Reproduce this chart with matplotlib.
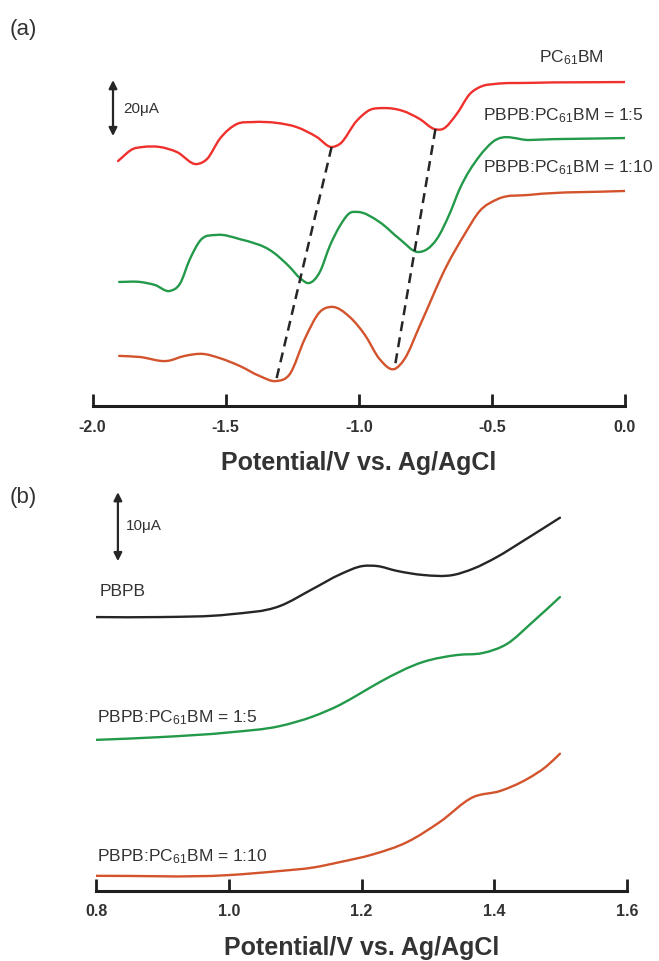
import numpy as np
import matplotlib
matplotlib.use("Agg")
import matplotlib.pyplot as plt
from matplotlib.path import Path
from matplotlib.patches import PathPatch

plt.rcParams['font.family'] = ['Liberation Sans', 'DejaVu Sans']
plt.rcParams['mathtext.fontset'] = 'custom'
plt.rcParams['mathtext.rm'] = 'Liberation Sans'
plt.rcParams['mathtext.it'] = 'Liberation Sans:italic'
plt.rcParams['mathtext.bf'] = 'Liberation Sans:bold'

# ---------------- (a) reduction scans (offset currents, uA) ----------------
v_pcbm = [-1.904, -1.848, -1.811, -1.747, -1.683, -1.608, -1.570, -1.522, -1.458, -1.398,
          -1.308, -1.233, -1.158, -1.102, -1.071, -1.008, -0.959, -0.910, -0.835, -0.771,
          -0.715, -0.685, -0.632, -0.583, -0.535, -0.490, -0.358, 0.0]
i_pcbm = [87.5, 91.8, 92.5, 92.5, 90.7, 86.4, 88.2, 95.4, 100.7, 101.4,
          101.1, 99.6, 96.1, 92.5, 93.6, 101.8, 105.7, 106.4, 105.4, 102.5,
          98.9, 98.9, 104.3, 111.4, 114.3, 115.0, 115.4, 115.7]

v_15 = [-1.90, -1.822, -1.765, -1.709, -1.672, -1.634, -1.597, -1.533, -1.447, -1.323,
        -1.259, -1.221, -1.187, -1.146, -1.109, -1.071, -1.034, -1.004, -0.922, -0.846,
        -0.778, -0.707, -0.659, -0.621, -0.546, -0.497, -0.358, 0.0]
i_15 = [44.3, 44.3, 43.2, 41.1, 43.6, 52.5, 58.9, 61.1, 59.6, 55.0,
        49.6, 45.7, 43.9, 47.9, 57.1, 64.3, 68.9, 69.3, 65.7, 59.6,
        55.0, 59.6, 68.6, 77.5, 89.3, 94.3, 95.0, 95.7]

v_110 = [-1.90, -1.822, -1.719, -1.653, -1.585, -1.522, -1.447, -1.372, -1.311, -1.259,
         -1.203, -1.146, -1.101, -1.034, -0.977, -0.922, -0.866, -0.828, -0.771, -0.670,
         -0.602, -0.546, -0.478, -0.358, 0.0]
i_110 = [17.9, 17.5, 16.1, 17.9, 18.6, 17.1, 14.3, 10.7, 8.9, 11.4,
         23.9, 33.6, 35.4, 31.8, 25.4, 16.8, 13.2, 16.8, 28.6, 50.0,
         61.4, 69.6, 73.9, 75.4, 76.8]

# reduction peak potentials linked by dashed lines (PC61BM -> 1:10)
peaks_pcbm = [-1.102, -0.712]
peaks_110 = [-1.311, -0.866]

xticks_a = [-2.0, -1.5, -1.0, -0.5, 0.0]
xticklabels_a = ['-2.0', '-1.5', '-1.0', '-0.5', '0.0']

# ---------------- (b) oxidation scans (offset currents, uA) ----------------
v_pbpb = [0.80, 0.896, 1.002, 1.077, 1.127, 1.168, 1.202, 1.223, 1.253, 1.293,
          1.338, 1.368, 1.404, 1.443, 1.499]
i_pbpb = [39.7, 39.7, 40.1, 41.3, 43.8, 45.9, 47.1, 47.1, 46.4, 45.8,
          45.8, 46.7, 48.4, 50.7, 54.1]

v_b15 = [0.80, 0.896, 1.002, 1.077, 1.127, 1.168, 1.201, 1.228, 1.293, 1.344,
         1.383, 1.419, 1.458, 1.499]
i_b15 = [21.9, 22.3, 23.0, 23.9, 25.3, 27.0, 28.8, 30.3, 33.2, 34.2,
         34.5, 35.8, 39.0, 42.6]

v_b110 = [0.80, 0.999, 1.077, 1.127, 1.168, 1.217, 1.269, 1.318, 1.368, 1.409, 1.449,
          1.479, 1.499]
i_b110 = [2.2, 2.3, 2.9, 3.4, 4.2, 5.3, 7.1, 10.0, 13.6, 14.5, 16.2, 18.1, 19.9]

xticks_b = [0.8, 1.0, 1.2, 1.4, 1.6]
xticklabels_b = ['0.8', '1.0', '1.2', '1.4', '1.6']

RED = '#f0302c'
GREEN = '#23994a'
ORANGE = '#d2532c'
BLACK = '#262626'
TXT = '#333333'
AX = '#1e1e1e'

fig = plt.figure(figsize=(6.59, 9.62), dpi=100)


def smooth_trace(ax, xs, ys, color, lw=1.7):
    """Draw the measured points joined by smooth cubic Bezier segments."""
    x = np.asarray(xs, float)
    y = np.asarray(ys, float)
    h = np.diff(x)
    delta = np.diff(y) / h
    n = len(x)
    d = np.zeros(n)
    for k in range(1, n - 1):
        d[k] = (h[k] * delta[k - 1] + h[k - 1] * delta[k]) / (h[k - 1] + h[k])
    d[0] = delta[0]
    d[-1] = delta[-1]
    verts = [(x[0], y[0])]
    codes = [Path.MOVETO]
    for k in range(n - 1):
        verts += [(x[k] + h[k] / 3, y[k] + d[k] * h[k] / 3),
                  (x[k + 1] - h[k] / 3, y[k + 1] - d[k + 1] * h[k] / 3),
                  (x[k + 1], y[k + 1])]
        codes += [Path.CURVE4] * 3
    ax.add_patch(PathPatch(Path(verts, codes), fill=False, edgecolor=color,
                           lw=lw, capstyle='round', joinstyle='round'))


def style_axis(ax, ticks, labels):
    for s in ['left', 'right', 'top']:
        ax.spines[s].set_visible(False)
    ax.spines['bottom'].set_linewidth(2.2)
    ax.spines['bottom'].set_color(AX)
    ax.set_yticks([])
    ax.set_xticks(ticks)
    ax.set_xticklabels(labels, fontsize=11.5, fontweight='bold', color=TXT)
    ax.tick_params(axis='x', direction='in', length=9, width=2.0, color=AX, pad=9)
    ax.set_xlabel('Potential/V vs. Ag/AgCl', fontsize=18, fontweight='bold',
                  color=TXT, labelpad=12)
    ax.patch.set_alpha(0)


# ----- panel (a) -----
axa = fig.add_axes([92.5 / 659, 1 - 407 / 962, 532.5 / 659, 367 / 962])
axa.set_xlim(-2.0, 0.0)
axa.set_ylim(0, 367 / 2.8)
smooth_trace(axa, v_pcbm, i_pcbm, RED)
smooth_trace(axa, v_15, i_15, GREEN)
smooth_trace(axa, v_110, i_110, ORANGE)
for p_top, p_bot in zip(peaks_pcbm, peaks_110):
    y_top = np.interp(p_top, v_pcbm, i_pcbm)
    y_bot = np.interp(p_bot, v_110, i_110)
    axa.plot([p_top, p_bot], [y_top, y_bot], color=BLACK, lw=1.8,
             linestyle=(0, (4, 2.5)))
style_axis(axa, xticks_a, xticklabels_a)
axa.spines['bottom'].set_bounds(-2.0, 0.0)

axa.annotate('', xy=(-1.923, 116.4), xytext=(-1.923, 96.4),
             arrowprops=dict(arrowstyle='<|-|>', color=BLACK, lw=1.6,
                             mutation_scale=12, shrinkA=0, shrinkB=0))
axa.text(-1.885, 106.4, '20μA', fontsize=11, color=TXT, va='center', ha='left')
axa.text(-0.20, 124.6, 'PC$_{61}$BM', fontsize=12.5, color=TXT, ha='center', va='center')
axa.text(-0.534, 103.9, 'PBPB:PC$_{61}$BM = 1:5', fontsize=12.5, color=TXT,
         ha='left', va='center')
axa.text(-0.534, 85.4, 'PBPB:PC$_{61}$BM = 1:10', fontsize=12.5, color=TXT,
         ha='left', va='center')

# ----- panel (b) -----
axb = fig.add_axes([96 / 659, 1 - 892 / 962, 531 / 659, 407 / 962])
axb.set_xlim(0.8, 1.6)
axb.set_ylim(0, 407 / 6.9)
smooth_trace(axb, v_pbpb, i_pbpb, BLACK)
smooth_trace(axb, v_b15, i_b15, GREEN)
smooth_trace(axb, v_b110, i_b110, ORANGE)
style_axis(axb, xticks_b, xticklabels_b)
axb.spines['bottom'].set_bounds(0.8, 1.6)

axb.annotate('', xy=(0.833, 57.8), xytext=(0.833, 47.8),
             arrowprops=dict(arrowstyle='<|-|>', color=BLACK, lw=1.6,
                             mutation_scale=12, shrinkA=0, shrinkB=0))
axb.text(0.845, 53.0, '10μA', fontsize=11, color=TXT, va='center', ha='left')
axb.text(0.806, 43.5, 'PBPB', fontsize=12.5, color=TXT, ha='left', va='center')
axb.text(0.802, 25.3, 'PBPB:PC$_{61}$BM = 1:5', fontsize=12.5, color=TXT,
         ha='left', va='center')
axb.text(0.802, 5.1, 'PBPB:PC$_{61}$BM = 1:10', fontsize=12.5, color=TXT,
         ha='left', va='center')

fig.text(10 / 659, 1 - 30 / 962, '(a)', fontsize=16, color=TXT, ha='left', va='center')
fig.text(10 / 659, 1 - 498 / 962, '(b)', fontsize=16, color=TXT, ha='left', va='center')

fig.savefig('out.png', dpi=100)
